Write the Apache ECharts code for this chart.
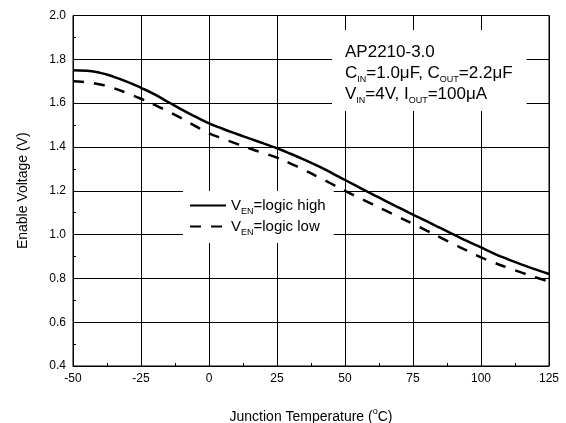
<!DOCTYPE html>
<html>
<head>
<meta charset="utf-8">
<script src="https://cdn.jsdelivr.net/npm/echarts@6/dist/echarts.min.js"></script>
<style>html,body{margin:0;padding:0;background:#fff}#c{width:566px;height:423px}</style>
</head>
<body>
<div id="c"></div>
<script>
const temps = [-50,-45,-40,-35,-30,-25,-20,-15,-10,-5,0,5,10,15,20,25,30,35,40,45,50,55,60,65,70,75,80,85,90,95,100,105,110,115,120,125];
const logicHigh = [1.750,1.748,1.738,1.720,1.697,1.670,1.640,1.605,1.570,1.538,1.508,1.483,1.460,1.438,1.416,1.394,1.369,1.342,1.313,1.282,1.249,1.217,1.185,1.153,1.122,1.091,1.061,1.030,1.000,0.970,0.941,0.912,0.887,0.863,0.841,0.820];
const logicLow = [1.700,1.695,1.685,1.668,1.645,1.620,1.592,1.562,1.530,1.495,1.462,1.438,1.415,1.393,1.372,1.351,1.324,1.295,1.264,1.232,1.199,1.169,1.139,1.109,1.079,1.049,1.018,0.987,0.956,0.926,0.896,0.871,0.848,0.826,0.805,0.785];
const xTicks = {min: -50, max: 125, step: 25};
const yTicks = {min: 0.4, max: 2.0, step: 0.2};
const seriesNames = ['V{sub|EN}=logic high', 'V{sub|EN}=logic low'];
const annotation = ['AP2210-3.0', 'C{sub|IN}=1.0\u03BCF, C{sub|OUT}=2.2\u03BCF', 'V{sub|IN}=4V, I{sub|OUT}=100\u03BCA'];

const FONT = 'Liberation Sans, Arial, sans-serif';
const chart = echarts.init(document.getElementById('c'));
const zip = (xs, ys) => xs.map((x, i) => [x, ys[i]]);

chart.setOption({
  animation: false,
  backgroundColor: '#fff',
  textStyle: {fontFamily: FONT, color: '#000'},
  grid: {left: 73, right: 17, top: 15.5, bottom: 57, containLabel: false, outerBoundsMode: 'none',
         show: true, borderColor: '#000', borderWidth: 1, backgroundColor: 'transparent'},
  title: {
    text: annotation.join('\n'),
    left: 332, top: 30,
    padding: [12, 14, 6, 13],
    backgroundColor: '#fff',
    textStyle: {
      fontFamily: FONT, fontSize: 17, fontWeight: 'normal', color: '#000', lineHeight: 21,
      rich: {sub: {fontFamily: FONT, fontSize: 9, color: '#000', verticalAlign: 'bottom', lineHeight: 4}}
    }
  },
  legend: {
    left: 183, top: 191,
    orient: 'vertical',
    backgroundColor: '#fff',
    padding: [4, 8, 6, 6],
    itemWidth: 36, itemHeight: 14, itemGap: 0,
    itemStyle: {opacity: 0},
    data: seriesNames,
    formatter: n => n,
    textStyle: {
      fontFamily: FONT, fontSize: 15, color: '#000', lineHeight: 21,
      rich: {sub: {fontFamily: FONT, fontSize: 9, color: '#000', verticalAlign: 'bottom', lineHeight: 6}}
    }
  },
  xAxis: {
    type: 'value', min: xTicks.min, max: xTicks.max, interval: xTicks.step,
    name: 'Junction Temperature ({sup|o}C)', nameLocation: 'middle', nameGap: 41,
    nameTextStyle: {fontFamily: FONT, fontSize: 14, color: '#000', rich: {sup: {fontFamily: FONT, fontSize: 9, color: '#000', verticalAlign: 'top', lineHeight: 20}}},
    axisLine: {show: true, onZero: false, lineStyle: {color: '#000', width: 1}},
    axisTick: {show: false, inside: true},
    minorTick: {show: true, splitNumber: 2, length: 3, lineStyle: {color: '#000', width: 1}},
    axisLabel: {fontFamily: FONT, fontSize: 12, color: '#000', margin: 7},
    splitLine: {show: true, lineStyle: {color: '#000', width: 1}}
  },
  yAxis: {
    type: 'value', min: yTicks.min, max: yTicks.max, interval: yTicks.step,
    name: 'Enable Voltage (V)', nameLocation: 'middle', nameGap: 43,
    nameTextStyle: {fontFamily: FONT, fontSize: 14, color: '#000'},
    axisLine: {show: true, onZero: false, lineStyle: {color: '#000', width: 1}},
    axisTick: {show: false, inside: true},
    minorTick: {show: true, splitNumber: 2, length: 3, lineStyle: {color: '#000', width: 1}},
    axisLabel: {fontFamily: FONT, fontSize: 12, color: '#000', margin: 7, formatter: v => v.toFixed(1)},
    splitLine: {show: true, lineStyle: {color: '#000', width: 1}}
  },
  series: [
    {name: seriesNames[0], type: 'line', data: zip(temps, logicHigh), smooth: true, symbol: 'none', z: 3,
     lineStyle: {color: '#000', width: 2.5, type: 'solid'}, itemStyle: {color: '#000'}},
    {name: seriesNames[1], type: 'line', data: zip(temps, logicLow), smooth: true, symbol: 'none', z: 3,
     lineStyle: {color: '#000', width: 2.5, type: [11, 10]}, itemStyle: {color: '#000'}}
  ]
});
</script>
</body>
</html>
